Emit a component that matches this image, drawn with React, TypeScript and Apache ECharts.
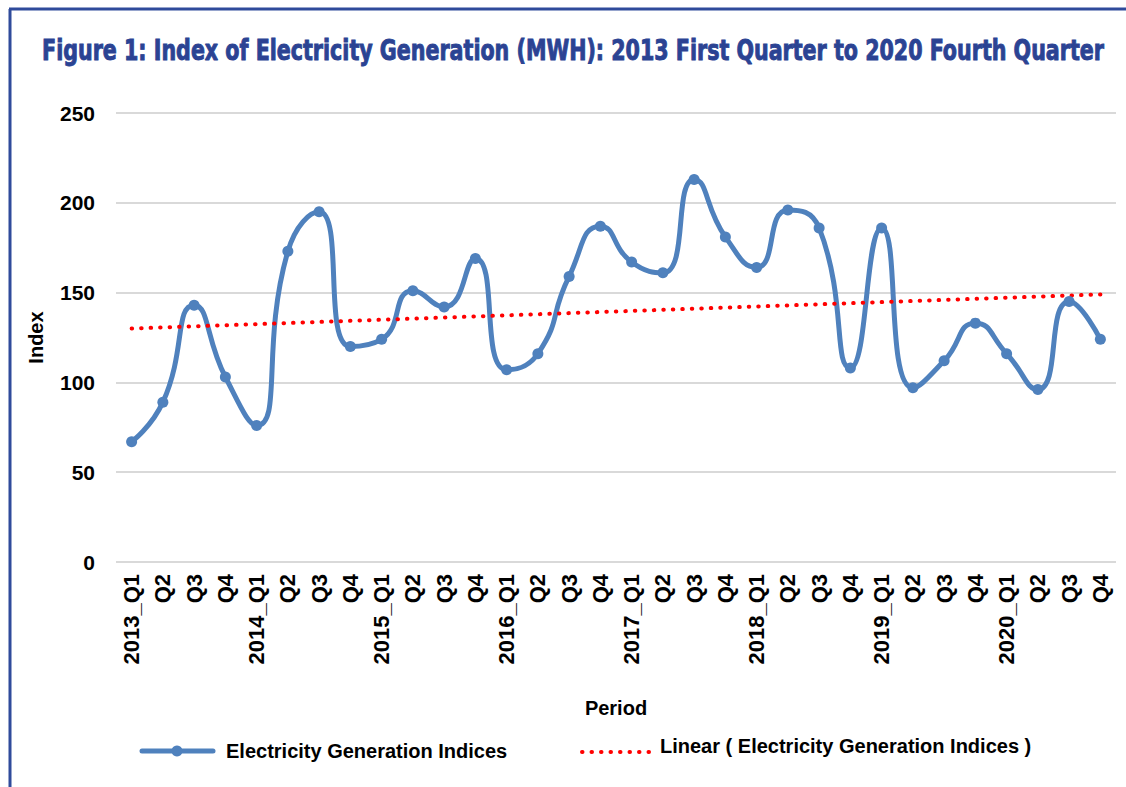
import React, { useEffect, useRef } from "react";
import * as echarts from "echarts";

const categories = [
  "2013_Q1", "Q2", "Q3", "Q4",
  "2014_Q1", "Q2", "Q3", "Q4",
  "2015_Q1", "Q2", "Q3", "Q4",
  "2016_Q1", "Q2", "Q3", "Q4",
  "2017_Q1", "Q2", "Q3", "Q4",
  "2018_Q1", "Q2", "Q3", "Q4",
  "2019_Q1", "Q2", "Q3", "Q4",
  "2020_Q1", "Q2", "Q3", "Q4",
];

const indices = [
  67, 89, 143, 103,
  76, 173, 195, 120,
  124, 151, 142, 169,
  107, 116, 159, 187,
  167, 161, 213, 181,
  164, 196, 186, 108,
  186, 97, 112, 133,
  116, 96, 145, 124,
];

// trend line endpoints
const trendStart = 130;
const trendEnd = 149;

const seriesName = "Electricity Generation Indices";
const trendName = "Linear ( Electricity Generation Indices )";
const titleText =
  "Figure 1: Index of Electricity Generation (MWH): 2013 First Quarter to 2020 Fourth Quarter";

export default function App() {
  const ref = useRef<HTMLDivElement>(null);
  useEffect(() => {
    const chart = echarts.init(ref.current!, null, { renderer: "svg" });
    const trendData = categories.map((_, i) =>
      i === 0 ? trendStart : i === categories.length - 1 ? trendEnd : "-"
    );
    const font = "'Liberation Sans', Arial, sans-serif";
    const lblFont = "bold 20px 'Liberation Sans', Arial, sans-serif";
    chart.setOption({
      animation: false,
      backgroundColor: "#ffffff",
      grid: { left: 116, right: 10, top: 113, bottom: 225, containLabel: false },
      graphic: [
        {
          type: "line",
          shape: { x1: 10, y1: 9, x2: 10, y2: 787 },
          style: { stroke: "#2F4B9B", lineWidth: 3 },
        },
        {
          type: "line",
          shape: { x1: 9, y1: 9, x2: 1126, y2: 9 },
          style: { stroke: "#2F4B9B", lineWidth: 3 },
        },
        {
          type: "text",
          x: 573,
          y: 50,
          scaleX: 0.819,
          style: {
            text: titleText,
            font: "bold 28px 'DejaVu Sans Condensed', sans-serif",
            fill: "#2B4393",
            stroke: "#2B4393",
            lineWidth: 0.9,
            textAlign: "center",
            textVerticalAlign: "middle",
          },
        },
        // legend item 1
        {
          type: "line",
          shape: { x1: 142, y1: 751, x2: 213, y2: 751 },
          style: { stroke: "#4F81BD", lineWidth: 5, lineCap: "round" },
        },
        {
          type: "circle",
          shape: { cx: 177, cy: 751, r: 5.5 },
          style: { fill: "#4F81BD" },
        },
        {
          type: "text",
          x: 226,
          y: 751,
          style: { text: seriesName, font: lblFont, fill: "#000", textVerticalAlign: "middle" },
        },
        // legend item 2
        {
          type: "line",
          shape: { x1: 582, y1: 752, x2: 655, y2: 752 },
          style: { stroke: "#FF0000", lineWidth: 4, lineCap: "round", lineDash: [0.5, 9] },
        },
        {
          type: "text",
          x: 660,
          y: 746,
          style: { text: trendName, font: lblFont, fill: "#000", textVerticalAlign: "middle" },
        },
      ],
      xAxis: {
        type: "category",
        data: categories,
        boundaryGap: true,
        name: "Period",
        nameLocation: "middle",
        nameGap: 136,
        nameTextStyle: { fontFamily: font, fontWeight: "bold", fontSize: 20, color: "#000" },
        axisLine: { show: false },
        axisTick: { show: false },
        axisLabel: {
          rotate: 90,
          interval: 0,
          margin: 12,
          fontFamily: font,
          fontWeight: "bold",
          fontSize: 22,
          color: "#000",
        },
      },
      yAxis: {
        type: "value",
        min: 0,
        max: 250,
        interval: 50,
        name: "Index",
        nameLocation: "middle",
        nameGap: 70,
        nameTextStyle: { fontFamily: font, fontWeight: "bold", fontSize: 20, color: "#000" },
        axisLine: { show: false },
        axisTick: { show: false },
        axisLabel: {
          margin: 21,
          fontFamily: font,
          fontWeight: "bold",
          fontSize: 21,
          color: "#000",
        },
        splitLine: { lineStyle: { color: "#D9D9D9", width: 2 } },
      },
      series: [
        {
          name: seriesName,
          type: "line",
          data: indices,
          smooth: 0.55,
          symbol: "circle",
          symbolSize: 11,
          itemStyle: { color: "#4F81BD" },
          lineStyle: { color: "#4F81BD", width: 5 },
        },
        {
          name: trendName,
          type: "line",
          data: trendData,
          connectNulls: true,
          symbol: "none",
          itemStyle: { color: "#FF0000" },
          lineStyle: { color: "#FF0000", width: 4, type: [0.5, 9], cap: "round" },
        },
      ],
    });
    return () => chart.dispose();
  }, []);
  return (
    <div style={{ position: "fixed", left: 0, top: 0 }}>
      <div ref={ref} style={{ width: 1126, height: 787 }} />
    </div>
  );
}
